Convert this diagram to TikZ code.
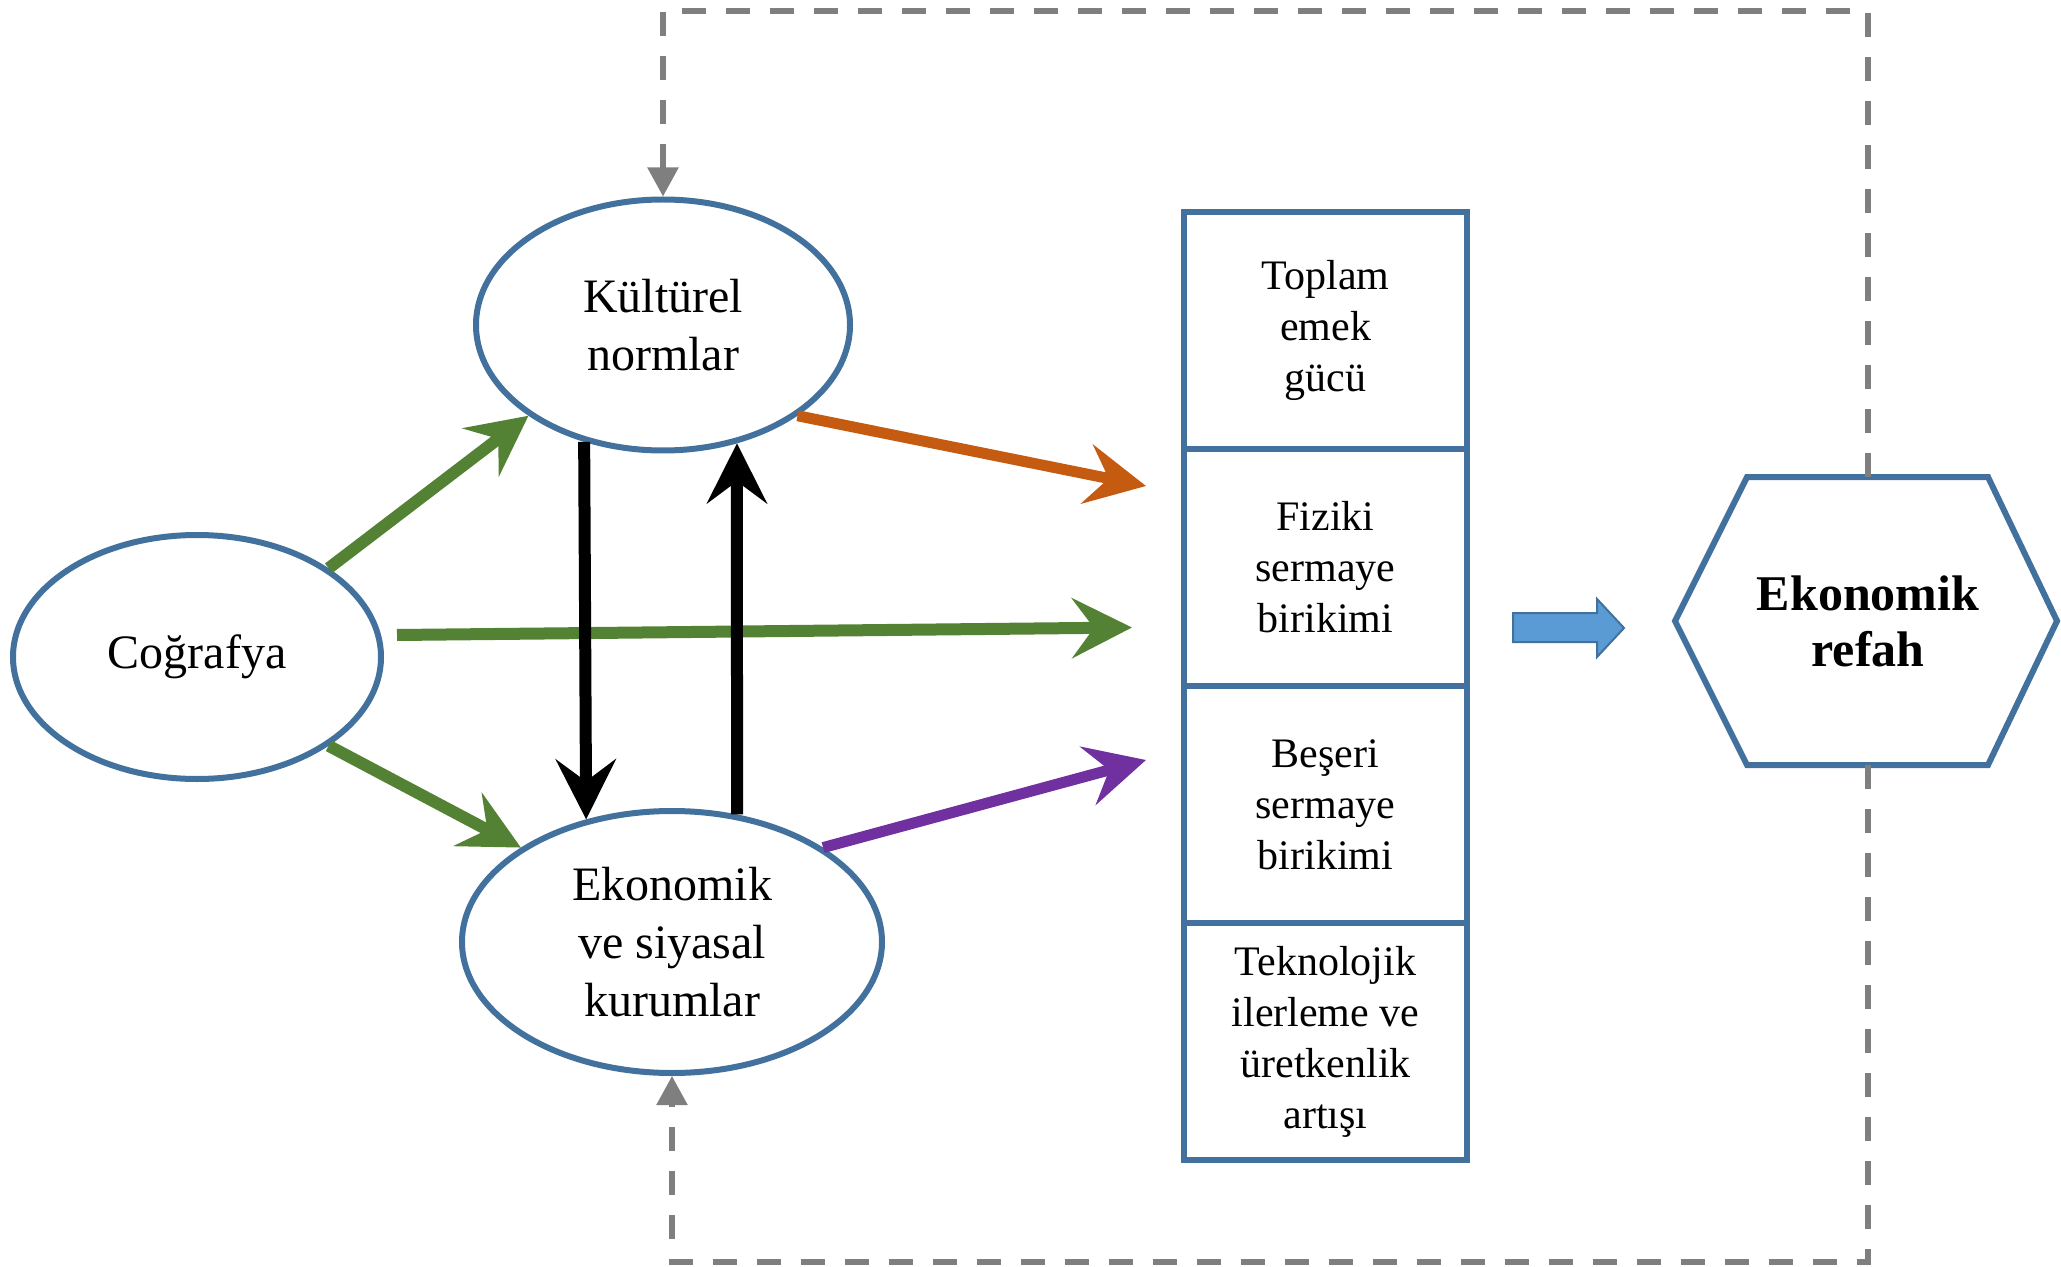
\documentclass[tikz,border=0pt]{standalone}
\usepackage{fontspec}
\setmainfont{Liberation Serif}
\usetikzlibrary{positioning,arrows.meta,shapes.geometric}
\definecolor{edge}{RGB}{65,113,156}
\definecolor{grn}{RGB}{84,130,53}
\definecolor{orng}{RGB}{197,90,17}
\definecolor{purp}{RGB}{112,48,160}
\definecolor{fb}{RGB}{127,127,127}
\definecolor{blockfill}{RGB}{91,155,213}
\begin{document}
\begin{tikzpicture}[x=0.5pt, y=-0.5pt,
  oval/.style = {draw=edge, line width=3pt, ellipse, inner sep=0pt, align=center, font=\fontsize{24}{29}\selectfont},
  part/.style = {draw=edge, line width=3pt, rectangle, inner sep=0pt, outer sep=0pt, minimum width=141.5pt, minimum height=118.5pt, align=center, font=\fontsize{21}{25.5}\selectfont},
  head/.style = {line width=6pt, -{Stealth[length=30pt, width=30pt, inset=11pt]}},
  back/.style = {draw=fb, line width=2.75pt, dash pattern=on 12pt off 10pt, -{Triangle[length=14.5pt, width=15pt]}}]
\useasboundingbox (0,0) rectangle (2061,1267);
\node[oval, minimum width=184pt, minimum height=122pt] (cog) at (197,657) {Coğrafya};
\node[oval, minimum width=187pt, minimum height=125.5pt] (kul) at (663,325) {Kültürel\\normlar};
\node[oval, minimum width=210pt, minimum height=131pt] (kur) at (672,942) {Ekonomik\\ve siyasal\\kurumlar};
\node[part] (b1) at (1325.5,330.5) {Toplam\\emek\\gücü};
\node[part] (b2) [below=0pt of b1] {Fiziki\\sermaye\\birikimi};
\node[part] (b3) [below=0pt of b2] {Beşeri\\sermaye\\birikimi};
\node[part] (b4) [below=0pt of b3] {Teknolojik\\ilerleme ve\\üretkenlik\\artışı};
\draw[edge, line width=3pt] (1675,621) -- (1747,477) -- (1988,477) -- (2057,621) -- (1988,765) -- (1747,765) -- cycle;
\node[minimum height=144pt, inner sep=0pt, align=center, font=\bfseries\fontsize{25}{28}\selectfont] (ref) at (1868,621) {Ekonomik\\refah};
\draw[edge, fill=blockfill, line width=1pt] (1513,613) -- (1597,613) -- (1597,599) -- (1624,628) -- (1597,657) -- (1597,642) -- (1513,642) -- cycle;
\draw[head, grn] (cog.34) -- (kul.214);
\draw[head, grn] ([shift={(13,-22)}]cog.east) -- ([shift={(-52,60)}]b2.west);
\draw[head, grn] (cog.326) -- (kur.148);
\draw[head] (kul.236) -- (kur.125);
\draw[head] (kur.63) -- (kul.302);
\draw[head, orng, line width=5.5pt] (kul.326) -- ([shift={(-38,37)}]b2.north west);
\draw[head, purp, line width=5.5pt] (kur.32) -- ([shift={(-38,74)}]b3.north west);
\coordinate (top) at (0,11);
\coordinate (bot) at (0,1262);
\draw[back] (ref.north) -- (ref.north |- top) -| (kul.north);
\draw[back] (ref.south) -- (ref.south |- bot) -| (kur.south);
\end{tikzpicture}
\end{document}
